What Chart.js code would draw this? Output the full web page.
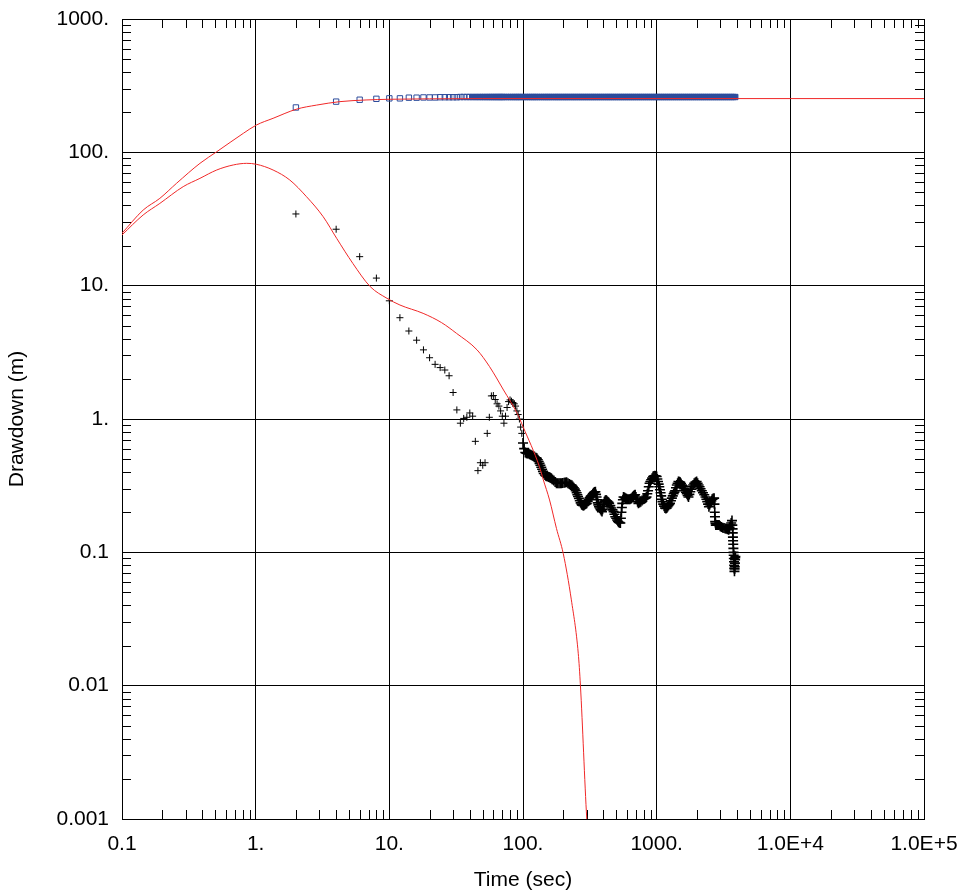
<!DOCTYPE html>
<html>
<head>
<meta charset="utf-8">
<title>Drawdown</title>
<script src="https://cdn.jsdelivr.net/npm/chart.js@4.4.1/dist/chart.umd.min.js"></script>
<style>
    body { margin: 0; background: #fff; }
    canvas { display: block; }
</style>
</head>
<body>
<canvas id="chart" width="961" height="894"></canvas>
<script>

// tick values and labels
const xTickValues = [0.1, 1, 10, 100, 1000, 10000, 100000];
const xTickLabels = ['0.1', '1.', '10.', '100.', '1000.', '1.0E+4', '1.0E+5'];
const yTickValues = [0.001, 0.01, 0.1, 1, 10, 100, 1000];
const yTickLabels = ['0.001', '0.01', '0.1', '1.', '10.', '100.', '1000.'];

// observed drawdown (squares)
const obsTime = [2, 4, 6, 8, 10, 12, 14, 16, 18, 20, 22, 24, 26, 28, 30, 32, 34, 36, 38,
    40, 42, 44, 46, 48, 50, 52, 54, 56, 58, 60, 62, 64, 66, 68, 70, 72, 75, 78, 81, 84, 87, 90, 93, 96,
    100, 104, 108, 112, 116, 120, 124, 128, 133, 138, 143, 148, 153, 158, 164, 170, 176, 182, 188, 195,
    202, 209, 216, 224, 232, 240, 248, 257, 266, 275, 285, 295, 305, 316, 327, 338, 350, 362, 375, 388,
    402, 416, 430, 445, 460, 476, 493, 510, 528, 546, 565, 585, 605, 626, 648, 670, 694, 718, 743, 769,
    796, 824, 852, 882, 913, 945, 978, 1012, 1048, 1084, 1122, 1162, 1202, 1244, 1288, 1333, 1380, 1428,
    1478, 1530, 1583, 1639, 1696, 1755, 1817, 1880, 1946, 2014, 2085, 2158, 2233, 2311, 2392, 2476, 2562,
    2652, 2745, 2841, 2940, 3043, 3150, 3260, 3374, 3492, 3614, 3741, 3872, 3900];
const obsDrawdown = [217, 240, 248, 252, 254, 254, 257, 257, 258, 258, 258, 259, 259, 259, 259, 259, 260, 260, 260,
    260, 260, 260, 260, 260, 260, 260, 260, 260, 260, 260, 260, 260, 260, 260, 260, 260, 260, 260, 260, 260, 260, 260, 260, 260,
    260, 260, 260, 260, 260, 260, 260, 260, 260, 260, 260, 260, 260, 260, 260, 260, 260, 260, 260, 260,
    260, 260, 260, 260, 260, 260, 260, 260, 260, 260, 260, 260, 260, 260, 260, 260, 260, 260, 260, 260,
    260, 260, 260, 260, 260, 260, 260, 260, 260, 260, 260, 260, 260, 260, 260, 260, 260, 260, 260, 260,
    260, 260, 260, 260, 260, 260, 260, 260, 260, 260, 260, 260, 260, 260, 260, 260, 260, 260,
    260, 260, 260, 260, 260, 260, 260, 260, 260, 260, 260, 260, 260, 260, 260, 260, 260,
    260, 260, 260, 260, 260, 260, 260, 260, 260, 260, 260, 260];

// derivative (crosses)
const derivTime = [2, 4, 6, 8, 10, 12, 14, 16, 18, 20, 22, 24, 26, 28, 30, 32, 34, 36, 38, 40,
    42, 44, 46, 48, 50, 52, 54, 56, 58, 60, 62, 64, 66, 68, 70, 72, 74, 76, 78, 80,
    82, 84, 86, 88, 90, 92, 94, 96, 98,
    100, 102, 104, 106, 108, 110, 112, 114, 116, 118, 120, 122, 125, 127, 129, 131, 133, 135, 137, 139,
    141, 143, 146, 148, 150, 153, 156, 158, 160, 163, 166, 170, 174, 178, 182, 186, 190, 194, 198, 203,
    207, 212, 217, 222, 227, 232, 236, 240, 244, 248, 252, 255, 258, 262, 266, 270, 274, 277, 281, 285,
    289, 293, 297, 300, 305, 310, 315, 320, 324, 328, 333, 338, 343, 348, 352, 355, 358, 362, 366, 370,
    375, 380, 385, 390, 394, 398, 402, 406, 412, 418, 424, 430, 436, 441, 450, 458, 467, 476, 483, 490,
    498, 506, 513, 520, 528, 535, 540, 545, 549, 553, 559, 565, 575, 585, 595, 605, 617, 630, 640, 650,
    660, 670, 680, 690, 700, 710, 720, 730, 745, 760, 777, 795, 808, 820, 830, 840, 851, 862, 873, 885,
    897, 910, 925, 940, 955, 970, 985, 1000, 1012, 1023, 1035, 1046, 1058, 1070, 1081, 1093, 1106, 1120, 1137, 1154,
    1172, 1190, 1207, 1225, 1241, 1258, 1279, 1300, 1320, 1340, 1358, 1375, 1395, 1415, 1435, 1456, 1478, 1500, 1522, 1545,
    1565, 1586, 1608, 1630, 1655, 1680, 1705, 1730, 1757, 1785, 1812, 1840, 1875, 1910, 1950, 1990, 2025, 2060, 2095, 2130,
    2175, 2220, 2270, 2320, 2355, 2390, 2425, 2460, 2495, 2530, 2565, 2600, 2645, 2690, 2705, 2720, 2730, 2740, 2755, 2770,
    2810, 2850, 2890, 2930, 2990, 3050, 3120, 3190, 3255, 3320, 3390, 3460, 3510, 3560, 3610, 3660, 3680, 3700, 3710, 3720,
    3730, 3740, 3750, 3760, 3770, 3780, 3790, 3800, 3810, 3820, 3830, 3840, 3850, 3860, 3870, 3880];
const derivValue = [34.5, 26.5, 16.5, 11.4, 7.7, 5.75, 4.57, 3.9, 3.3, 2.88, 2.57, 2.43, 2.33, 2.11, 1.58, 1.17, 0.93, 1.01, 1.03, 1.11,
    1.05, 0.68, 0.41, 0.47, 0.45, 0.47, 0.78, 1.03, 1.49, 1.5, 1.4, 1.3, 1.25, 1.15, 1.05, 0.93, 1.05, 1.22, 1.35, 1.39,
    1.36, 1.33, 1.3, 1.25, 1.15, 1.08, 1.0, 0.87, 0.78,
    0.66, 0.6, 0.56, 0.553, 0.552, 0.55, 0.545, 0.54, 0.535, 0.53, 0.525, 0.52, 0.512, 0.507, 0.495, 0.48, 0.465, 0.45, 0.435, 0.42,
    0.405, 0.39, 0.38, 0.375, 0.372, 0.37, 0.367, 0.365, 0.362, 0.359, 0.352, 0.345, 0.337, 0.33, 0.33, 0.33, 0.33, 0.33, 0.331, 0.332,
    0.334, 0.335, 0.33, 0.325, 0.321, 0.318, 0.312, 0.305, 0.298, 0.29, 0.28, 0.27, 0.262, 0.254, 0.244, 0.235, 0.229, 0.226, 0.225, 0.225,
    0.227, 0.23, 0.232, 0.233, 0.242, 0.25, 0.256, 0.262, 0.266, 0.269, 0.275, 0.28, 0.283, 0.285, 0.272, 0.26, 0.248, 0.235, 0.227, 0.22,
    0.215, 0.21, 0.206, 0.202, 0.21, 0.22, 0.23, 0.24, 0.245, 0.247, 0.244, 0.24, 0.237, 0.233, 0.224, 0.215, 0.208, 0.202, 0.193, 0.185,
    0.18, 0.175, 0.171, 0.168, 0.167, 0.166, 0.18, 0.2, 0.217, 0.233, 0.248, 0.26, 0.258, 0.255, 0.252, 0.25, 0.25, 0.25, 0.252, 0.255,
    0.26, 0.265, 0.268, 0.27, 0.26, 0.25, 0.24, 0.233, 0.236, 0.24, 0.245, 0.25, 0.252, 0.255, 0.257, 0.26, 0.275, 0.29, 0.31, 0.33,
    0.34, 0.35, 0.36, 0.37, 0.373, 0.375, 0.373, 0.37, 0.355, 0.34, 0.325, 0.31, 0.295, 0.28, 0.265, 0.25, 0.24, 0.23, 0.222, 0.215,
    0.213, 0.215, 0.22, 0.225, 0.229, 0.233, 0.244, 0.255, 0.265, 0.275, 0.283, 0.29, 0.305, 0.32, 0.33, 0.34, 0.338, 0.335, 0.328, 0.32,
    0.315, 0.31, 0.3, 0.29, 0.282, 0.275, 0.267, 0.26, 0.272, 0.285, 0.298, 0.31, 0.32, 0.33, 0.336, 0.34, 0.33, 0.32, 0.31, 0.30,
    0.29, 0.28, 0.27, 0.26, 0.25, 0.24, 0.23, 0.22, 0.228, 0.235, 0.243, 0.25, 0.253, 0.255, 0.23, 0.2, 0.185, 0.17, 0.165, 0.16,
    0.16, 0.16, 0.16, 0.16, 0.157, 0.155, 0.153, 0.152, 0.151, 0.15, 0.149, 0.148, 0.154, 0.16, 0.166, 0.173, 0.16, 0.15, 0.14, 0.13,
    0.122, 0.115, 0.107, 0.1, 0.095, 0.09, 0.085, 0.08, 0.076, 0.072, 0.075, 0.078, 0.083, 0.088, 0.091, 0.093];

// fitted curves (red)
const fitTime = [0.1, 0.144, 0.192, 0.256, 0.383, 0.511, 0.81, 1.01, 1.35, 2.03, 2.85, 4.27, 6.7, 10, 20, 50, 100, 1000, 10000, 100000];
const fitDrawdown = [24.7, 36.9, 45.2, 58.6, 82.7, 101, 139, 160, 180, 211, 226, 240, 247, 250, 252, 253, 253, 253, 253, 253];

const fitDerivTime = [0.1, 0.144, 0.192, 0.287, 0.383, 0.511, 0.68, 0.857, 1.01, 1.35, 1.8, 2.4, 3.2, 4.04, 5.33, 7.2, 9.6,
    12.0, 17.9, 24.6, 31.8, 45.3, 56.2, 71.5, 90.5, 100, 132.6, 142, 158, 178, 200, 230, 259, 269, 300, 305];
const fitDerivValue = [24.0, 33.9, 41.4, 55.3, 63.8, 73.7, 80.4, 82.7, 81.4, 73.7, 62, 46.5, 32.9, 22.6, 14.7, 9.83, 8.04,
    7.16, 6.2, 5.28, 4.39, 3.30, 2.47, 1.65, 1.10, 0.876, 0.44, 0.349, 0.247, 0.151, 0.098, 0.044, 0.0175, 0.01, 0.001, 0.0008];

function toPoints(xs, ys) {
    return xs.map((x, i) => ({ x: x, y: ys[i] }));
}

// short inward tick marks at 2..9 of every decade, on all four sides
const minorTicks = {
    id: 'minorTicks',
    beforeDatasetsDraw(chart) {
        const ctx = chart.ctx;
        const a = chart.chartArea;
        const len = 9;
        ctx.save();
        ctx.strokeStyle = '#000';
        ctx.lineWidth = 1;
        ctx.beginPath();
        xTickValues.slice(0, -1).forEach(d => {
            for (let m = 2; m <= 9; m++) {
                const px = Math.round(chart.scales.x.getPixelForValue(d * m)) + 0.5;
                ctx.moveTo(px, a.bottom); ctx.lineTo(px, a.bottom - len);
                ctx.moveTo(px, a.top); ctx.lineTo(px, a.top + len);
            }
        });
        yTickValues.slice(0, -1).forEach(d => {
            for (let m = 2; m <= 9; m++) {
                const py = Math.round(chart.scales.y.getPixelForValue(d * m)) + 0.5;
                ctx.moveTo(a.left, py); ctx.lineTo(a.left + len, py);
                ctx.moveTo(a.right, py); ctx.lineTo(a.right - len, py);
            }
        });
        ctx.stroke();
        ctx.restore();
    }
};

const font = { family: "'Liberation Sans', Arial, sans-serif", size: 21 };
const blue = '#2c4c9c';

new Chart(document.getElementById('chart'), {
    type: 'scatter',
    data: {
        datasets: [{
            data: toPoints(fitTime, fitDrawdown),
            showLine: true,
            cubicInterpolationMode: 'monotone',
            borderColor: '#f02828',
            borderWidth: 1,
            pointRadius: 0,
            order: 0
        }, {
            data: toPoints(fitDerivTime, fitDerivValue),
            showLine: true,
            cubicInterpolationMode: 'monotone',
            borderColor: '#f02828',
            borderWidth: 1,
            pointRadius: 0,
            order: 0
        }, {
            data: toPoints(obsTime, obsDrawdown),
            pointStyle: 'rect',
            pointRadius: 3.8,
            borderColor: blue,
            // dense squares overlap into a solid band
            backgroundColor: c => (c.raw && c.raw.x > 40) ? blue : 'rgba(255,255,255,0)',
            borderWidth: 1,
            order: 1
        }, {
            data: toPoints(derivTime, derivValue),
            pointStyle: 'cross',
            pointRadius: c => (c.raw && c.raw.x >= 100) ? 5 : 3.5,
            borderColor: '#000',
            borderWidth: c => (c.raw && c.raw.x >= 100) ? 1.6 : 1,
            order: 1
        }]
    },
    options: {
        responsive: false,
        animation: false,
        layout: { padding: { top: 19, right: 37, bottom: 0, left: 0 } },
        plugins: {
            legend: { display: false },
            tooltip: { enabled: false }
        },
        scales: {
            x: {
                type: 'logarithmic',
                min: 0.1,
                max: 100000,
                afterBuildTicks: s => { s.ticks = xTickValues.map(v => ({ value: v })); },
                afterFit: s => {
                    s.height = 75;
                    s.paddingLeft = 0;
                    s.paddingRight = 0;
                },
                grid: { color: '#000', lineWidth: 1, drawTicks: false },
                border: { color: '#000', width: 1 },
                ticks: {
                    padding: 13, color: '#000', font: font, maxRotation: 0, autoSkip: false,
                    callback: (v, i) => xTickLabels[i]
                },
                title: { display: true, text: 'Time (sec)', color: '#000', font: font, padding: { top: 0, bottom: 1 } }
            },
            y: {
                type: 'logarithmic',
                min: 0.001,
                max: 1000,
                afterBuildTicks: s => { s.ticks = yTickValues.map(v => ({ value: v })); },
                afterFit: s => {
                    s.width = 122;
                    s.paddingTop = 0;
                    s.paddingBottom = 0;
                },
                grid: { color: '#000', lineWidth: 1, drawTicks: false },
                border: { color: '#000', width: 1 },
                ticks: {
                    padding: 13, color: '#000', font: font, autoSkip: false,
                    callback: (v, i) => yTickLabels[i]
                },
                title: { display: true, text: 'Drawdown (m)', color: '#000', font: font, padding: { top: 5, bottom: 0 } }
            }
        }
    },
    plugins: [minorTicks]
});

</script>
</body>
</html>
